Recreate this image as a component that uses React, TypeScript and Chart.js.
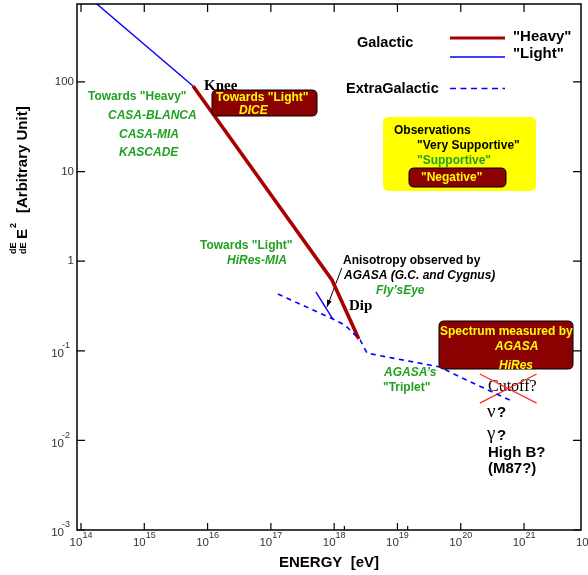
import React, { useEffect, useRef } from 'react';
import { Chart, registerables } from 'chart.js';

Chart.register(...registerables);

// ---- data (energy in eV, flux in arbitrary units) ----
const energyGalacticLight = [1e14, 5.89e15];
const fluxGalacticLight = [1050, 90];

const energyGalacticHeavy = [5.89e15, 9.23e17, 2.45e18];
const fluxGalacticHeavy = [90, 0.616, 0.135];

const energyExtraGalactic = [1.29e17, 9.55e17, 1.48e18, 2.57e18, 3.31e18, 4.68e19, 9.77e19, 6.03e20];
const fluxExtraGalactic = [0.43, 0.226, 0.194, 0.132, 0.094, 0.066, 0.051, 0.028];

const energyExtraLight = [5.13e17, 9.55e17];
const fluxExtraLight = [0.453, 0.226];

const energyArrow = [1.32e18, 7.69e17];
const fluxArrow = [0.84, 0.308];

const energyCrossA = [2.0e20, 1.58e21];
const fluxCrossA = [0.055, 0.0261];
const energyCrossB = [2.0e20, 1.58e21];
const fluxCrossB = [0.0261, 0.055];

const xTickExponents = [14, 15, 16, 17, 18, 19, 20, 21, 22];
const xMinorTicks = [1.45e18, 1.45e19];
const yTickValues = [1e-3, 1e-2, 1e-1, 1, 10, 100];
const yTickLabels = ['10|-3', '10|-2', '10|-1', '1', '10', '100'];

const X_MIN = 8.65e13;
const X_MAX = 7.94e21;
const Y_MIN = 1e-3;
const Y_MAX = 741;

const SANS = '"Liberation Sans", Arial, Helvetica, sans-serif';
const SERIF = '"Liberation Serif", "Times New Roman", serif';
const GREEN = '#22a022';
const DARKRED = '#8b0000';
const YELLOW = '#ffff00';
const BLUE = '#0000ff';
const HEAVY = '#aa0000';

function pts(xs: number[], ys: number[]) {
  return xs.map((x, i) => ({ x, y: ys[i] }));
}

function txt(ctx: CanvasRenderingContext2D, s: string, x: number, y: number, font: string, color: string, align: CanvasTextAlign = 'left') {
  ctx.font = font;
  ctx.fillStyle = color;
  ctx.textAlign = align;
  ctx.textBaseline = 'middle';
  ctx.fillText(s, x, y);
}

function rrect(ctx: CanvasRenderingContext2D, x0: number, y0: number, x1: number, y1: number, r: number, fill: string, stroke?: string) {
  ctx.beginPath();
  ctx.moveTo(x0 + r, y0);
  ctx.lineTo(x1 - r, y0);
  ctx.quadraticCurveTo(x1, y0, x1, y0 + r);
  ctx.lineTo(x1, y1 - r);
  ctx.quadraticCurveTo(x1, y1, x1 - r, y1);
  ctx.lineTo(x0 + r, y1);
  ctx.quadraticCurveTo(x0, y1, x0, y1 - r);
  ctx.lineTo(x0, y0 + r);
  ctx.quadraticCurveTo(x0, y0, x0 + r, y0);
  ctx.closePath();
  ctx.fillStyle = fill;
  ctx.fill();
  if (stroke) {
    ctx.strokeStyle = stroke;
    ctx.lineWidth = 1;
    ctx.stroke();
  }
}

const annotPlugin = {
  id: 'annot',
  beforeDatasetsDraw(chart: any) {
    const ctx: CanvasRenderingContext2D = chart.ctx;
    ctx.save();
    txt(ctx, 'Cutoff?', 488, 387, `16px ${SERIF}`, '#000');
    ctx.restore();
  },
  afterDatasetsDraw(chart: any) {
    const ctx: CanvasRenderingContext2D = chart.ctx;
    const { left, right, top, bottom } = chart.chartArea;
    const xs = chart.scales.x;
    const ys = chart.scales.y;
    ctx.save();

    // arrow head
    const am = chart.getDatasetMeta(4);
    if (am && am.data.length >= 2) {
      const p0 = am.data[0];
      const p1 = am.data[1];
      const a = Math.atan2(p1.y - p0.y, p1.x - p0.x);
      const L = 7, W = 2.5;
      ctx.beginPath();
      ctx.moveTo(p1.x, p1.y);
      ctx.lineTo(p1.x - L * Math.cos(a) + W * Math.sin(a), p1.y - L * Math.sin(a) - W * Math.cos(a));
      ctx.lineTo(p1.x - L * Math.cos(a) - W * Math.sin(a), p1.y - L * Math.sin(a) + W * Math.cos(a));
      ctx.closePath();
      ctx.fillStyle = '#000';
      ctx.fill();
    }

    // frame
    ctx.strokeStyle = '#000';
    ctx.lineWidth = 1.5;
    ctx.strokeRect(left, top, right - left, bottom - top);

    // x ticks + labels
    ctx.lineWidth = 1.2;
    xTickExponents.forEach((e) => {
      const px = xs.getPixelForValue(Math.pow(10, e));
      if (px <= right) {
        ctx.beginPath();
        ctx.moveTo(px, bottom);
        ctx.lineTo(px, bottom - 7);
        ctx.moveTo(px, top);
        ctx.lineTo(px, top + 8);
        ctx.stroke();
      }
      ctx.font = `11.5px ${SANS}`;
      const w10 = ctx.measureText('10').width;
      ctx.font = `9px ${SANS}`;
      const we = ctx.measureText(String(e)).width;
      const start = px - (w10 + we) / 2;
      txt(ctx, '10', start, 543, `11.5px ${SANS}`, '#333');
      txt(ctx, String(e), start + w10, 536, `9px ${SANS}`, '#333');
    });
    xMinorTicks.forEach((v) => {
      const px = xs.getPixelForValue(v);
      ctx.beginPath();
      ctx.moveTo(px, bottom);
      ctx.lineTo(px, bottom - 4);
      ctx.stroke();
    });

    // y ticks + labels
    yTickValues.forEach((v, i) => {
      const py = ys.getPixelForValue(v);
      ctx.beginPath();
      ctx.moveTo(left, py);
      ctx.lineTo(left + 8, py);
      ctx.moveTo(right, py);
      ctx.lineTo(right - 8, py);
      ctx.stroke();
      const lab = yTickLabels[i];
      if (lab.includes('|')) {
        const [b, ex] = lab.split('|');
        ctx.font = `9px ${SANS}`;
        const we = ctx.measureText(ex).width;
        txt(ctx, ex, 70, py - 5, `9px ${SANS}`, '#333', 'right');
        txt(ctx, b, 70 - we + 2, py + 3, `11.5px ${SANS}`, '#333', 'right');
      } else {
        txt(ctx, lab, 74, py, `11.5px ${SANS}`, '#333', 'right');
      }
    });

    // axis titles
    txt(ctx, 'ENERGY  [eV]', 279, 563, `bold 15px ${SANS}`, '#000');
    ctx.save();
    ctx.translate(27, 254);
    ctx.rotate(-Math.PI / 2);
    ctx.fillStyle = '#000';
    ctx.textAlign = 'left';
    ctx.textBaseline = 'alphabetic';
    ctx.font = `bold 9px ${SANS}`;
    ctx.fillText('dE', 0, -11);
    ctx.fillText('dE', 0, -1.5);
    ctx.font = `bold 15px ${SANS}`;
    ctx.fillText('E', 15, 0);
    ctx.font = `bold 9px ${SANS}`;
    ctx.fillText('2', 26, -11);
    ctx.font = `bold 15px ${SANS}`;
    ctx.fillText('[Arbitrary Unit]', 41, 0);
    ctx.restore();

    // legend
    txt(ctx, 'Galactic', 357, 43, `bold 14.5px ${SANS}`, '#000');
    txt(ctx, '"Heavy"', 513, 37, `bold 15px ${SANS}`, '#000');
    txt(ctx, '"Light"', 513, 54, `bold 15px ${SANS}`, '#000');
    txt(ctx, 'ExtraGalactic', 346, 89, `bold 14.5px ${SANS}`, '#000');
    ctx.lineWidth = 3;
    ctx.strokeStyle = HEAVY;
    ctx.beginPath();
    ctx.moveTo(450, 38);
    ctx.lineTo(505, 38);
    ctx.stroke();
    ctx.lineWidth = 1.4;
    ctx.strokeStyle = BLUE;
    ctx.beginPath();
    ctx.moveTo(450, 57);
    ctx.lineTo(505, 57);
    ctx.stroke();
    ctx.setLineDash([6, 4.5]);
    ctx.lineWidth = 1.6;
    ctx.beginPath();
    ctx.moveTo(450, 88.5);
    ctx.lineTo(505, 88.5);
    ctx.stroke();
    ctx.setLineDash([]);

    // Observations box
    rrect(ctx, 383, 117, 536, 191, 6, YELLOW);
    txt(ctx, 'Observations', 394, 131, `bold 12px ${SANS}`, '#000');
    txt(ctx, '"Very Supportive"', 417, 146, `bold 12px ${SANS}`, '#000');
    txt(ctx, '"Supportive"', 417, 161, `bold 12px ${SANS}`, GREEN);
    rrect(ctx, 409, 168, 506, 187, 5, DARKRED, '#000');
    txt(ctx, '"Negative"', 421, 178, `bold 12px ${SANS}`, YELLOW);

    // DICE box + Knee
    rrect(ctx, 212, 90, 317, 116, 5, DARKRED, '#000');
    txt(ctx, 'Towards "Light"', 216, 97.5, `bold 12px ${SANS}`, YELLOW);
    txt(ctx, 'DICE', 239, 111, `italic bold 12px ${SANS}`, YELLOW);
    ctx.font = `bold 15px ${SERIF}`;
    ctx.fillStyle = '#000';
    ctx.textAlign = 'left';
    ctx.textBaseline = 'alphabetic';
    ctx.fillText('Knee', 204, 90);

    // green annotations
    txt(ctx, 'Towards "Heavy"', 88, 97, `bold 12px ${SANS}`, GREEN);
    txt(ctx, 'CASA-BLANCA', 108, 116, `italic bold 12px ${SANS}`, GREEN);
    txt(ctx, 'CASA-MIA', 119, 135, `italic bold 12px ${SANS}`, GREEN);
    txt(ctx, 'KASCADE', 119, 153, `italic bold 12px ${SANS}`, GREEN);
    txt(ctx, 'Towards "Light"', 200, 246, `bold 12px ${SANS}`, GREEN);
    txt(ctx, 'HiRes-MIA', 227, 261, `italic bold 12px ${SANS}`, GREEN);
    txt(ctx, 'Fly\u2019sEye', 376, 291, `italic bold 12px ${SANS}`, GREEN);
    txt(ctx, 'AGASA\u2019s', 384, 373, `italic bold 12px ${SANS}`, GREEN);
    txt(ctx, '"Triplet"', 383, 388, `bold 12px ${SANS}`, GREEN);

    // anisotropy
    txt(ctx, 'Anisotropy observed by', 343, 261, `bold 12px ${SANS}`, '#000');
    txt(ctx, 'AGASA (G.C. and Cygnus)', 344, 276, `italic bold 12px ${SANS}`, '#000');
    txt(ctx, 'Dip', 349, 306, `bold 15px ${SERIF}`, '#000');

    // spectrum box
    rrect(ctx, 439, 321, 573, 369, 5, DARKRED, '#000');
    txt(ctx, 'Spectrum measured by', 440, 332, `bold 12px ${SANS}`, YELLOW);
    txt(ctx, 'AGASA', 495, 347, `italic bold 12px ${SANS}`, YELLOW);
    txt(ctx, 'HiRes', 499, 366, `italic bold 12px ${SANS}`, YELLOW);

    // bottom right questions
    txt(ctx, '\u03bd', 487, 412, `19px ${SERIF}`, '#000');
    txt(ctx, '?', 497, 413, `bold 15px ${SANS}`, '#000');
    txt(ctx, '\u03b3', 487, 434, `19px ${SERIF}`, '#000');
    txt(ctx, '?', 497, 436, `bold 15px ${SANS}`, '#000');
    txt(ctx, 'High B?', 488, 453, `bold 15px ${SANS}`, '#000');
    txt(ctx, '(M87?)', 488, 469, `bold 15px ${SANS}`, '#000');

    ctx.restore();
  },
};

export default function App() {
  const ref = useRef<HTMLCanvasElement | null>(null);
  useEffect(() => {
    if (!ref.current) return;
    const base = { showLine: true, pointRadius: 0, pointHoverRadius: 0, fill: false, tension: 0 };
    const chart = new Chart(ref.current, {
      type: 'scatter',
      data: {
        datasets: [
          { ...base, label: 'ExtraGalactic', data: pts(energyExtraGalactic, fluxExtraGalactic), borderColor: BLUE, borderWidth: 1.6, borderDash: [5, 4.5] },
          { ...base, label: 'ExtraGalactic light', data: pts(energyExtraLight, fluxExtraLight), borderColor: BLUE, borderWidth: 1.4 },
          { ...base, label: 'Light', data: pts(energyGalacticLight, fluxGalacticLight), borderColor: BLUE, borderWidth: 1.4 },
          { ...base, label: 'Heavy', data: pts(energyGalacticHeavy, fluxGalacticHeavy), borderColor: HEAVY, borderWidth: 3.6 },
          { ...base, label: 'Anisotropy', data: pts(energyArrow, fluxArrow), borderColor: '#000', borderWidth: 1 },
          { ...base, label: 'CrossA', data: pts(energyCrossA, fluxCrossA), borderColor: '#ff2a2a', borderWidth: 1.3 },
          { ...base, label: 'CrossB', data: pts(energyCrossB, fluxCrossB), borderColor: '#ff2a2a', borderWidth: 1.3 },
        ],
      },
      options: {
        responsive: false,
        animation: false,
        layout: { padding: { left: 77, right: 7, top: 4, bottom: 45 } },
        plugins: { legend: { display: false }, tooltip: { enabled: false } },
        scales: {
          x: { type: 'logarithmic', min: X_MIN, max: X_MAX, display: false },
          y: { type: 'logarithmic', min: Y_MIN, max: Y_MAX, display: false },
        },
      },
      plugins: [annotPlugin],
    } as any);
    return () => chart.destroy();
  }, []);
  return (
    <div style={{ position: 'absolute', left: 0, top: 0, width: 588, height: 575, background: '#fff' }}>
      <canvas ref={ref} width={588} height={575} style={{ display: 'block' }} />
    </div>
  );
}
